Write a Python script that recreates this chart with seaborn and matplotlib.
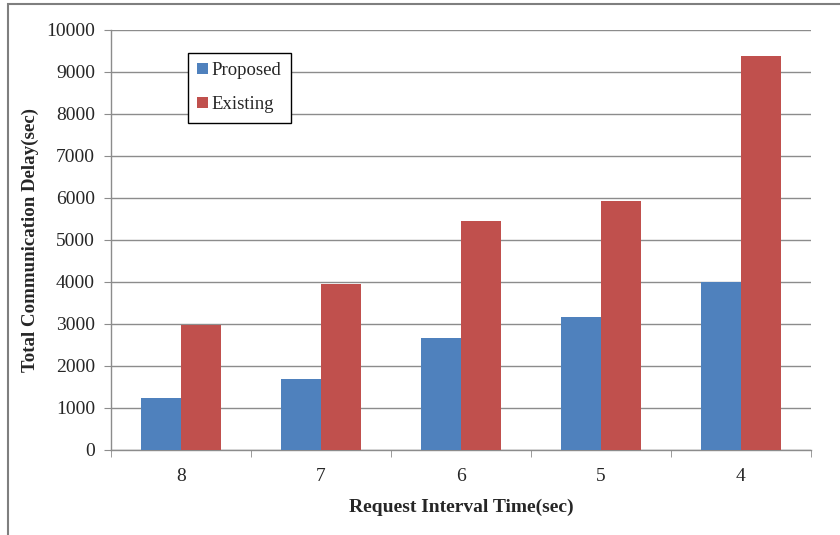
import pandas as pd
import matplotlib.pyplot as plt
import matplotlib.patches as mpatches
import seaborn as sns

intervals = ['8', '7', '6', '5', '4']
proposed = [1250, 1680, 2670, 3160, 4000]
existing = [2970, 3960, 5450, 5940, 9380]

df = pd.DataFrame({
    'interval': intervals * 2,
    'delay': proposed + existing,
    'method': ['Proposed'] * 5 + ['Existing'] * 5,
})

sns.set_style('white')
plt.rcParams['font.family'] = ['Liberation Serif', 'DejaVu Serif']

fig = plt.figure(figsize=(8.4, 5.35), dpi=100)
ax = fig.add_axes([111 / 840, 1 - 450 / 535, 700 / 840, 420 / 535])

sns.barplot(data=df, x='interval', y='delay', hue='method', order=intervals,
            palette={'Proposed': '#4F81BD', 'Existing': '#C0504D'},
            width=0.57, saturation=1, ax=ax, zorder=3, edgecolor='none')

ax.set_ylim(0, 10000)
ax.set_xlim(-0.5, 4.5)
ax.set_yticks(range(0, 10001, 1000))
ax.yaxis.grid(True, color='#8c8c8c', lw=1, zorder=0)
ax.set_axisbelow(True)

for s in ['top', 'right']:
    ax.spines[s].set_visible(False)
for s in ['left', 'bottom']:
    ax.spines[s].set_color('#8c8c8c')
    ax.spines[s].set_linewidth(1)

# category boundary ticks like Excel
ax.set_xticks([i - 0.5 for i in range(6)], minor=True)
ax.tick_params(axis='x', which='major', length=0, labelsize=14, pad=13)
ax.tick_params(axis='x', which='minor', length=5, color='#8c8c8c', direction='out', bottom=True)
ax.tick_params(axis='y', length=5, color='#8c8c8c', direction='out', left=True, labelsize=14, pad=6.5)

ax.set_xlabel('Request Interval Time(sec)', fontsize=14, fontweight='bold', labelpad=10)
ax.set_ylabel('Total Communication Delay(sec)', fontsize=13.6, fontweight='bold', labelpad=5.5)

leg = ax.legend(loc='upper left', bbox_to_anchor=(0.11, 0.945), fontsize=13.5,
                frameon=True, fancybox=False, edgecolor='black', framealpha=1,
                handlelength=0.55, handleheight=0.55, handletextpad=0.2,
                labelspacing=0.9, borderpad=0.5, borderaxespad=0)
leg.get_frame().set_linewidth(1)

# outer chart frame
fig.patches.append(mpatches.Rectangle((8 / 840, -0.1), 1.2, 1 - 4 / 535 + 0.1,
                                      transform=fig.transFigure, fill=False,
                                      edgecolor='#7f7f7f', lw=1.5))

plt.savefig('out.png', dpi=100)
